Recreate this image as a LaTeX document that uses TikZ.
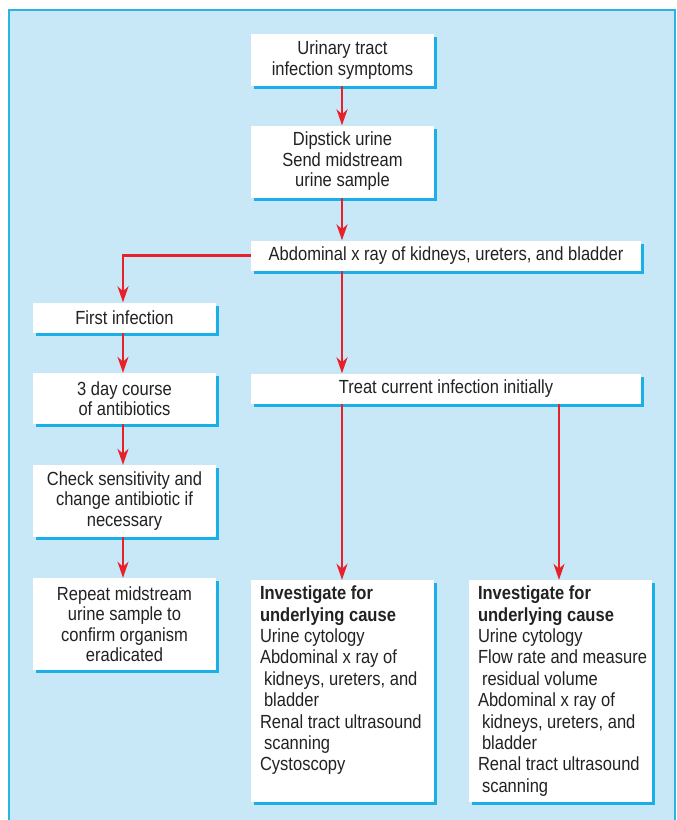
\documentclass[tikz,border=0pt]{standalone}
\usepackage{fontspec}
\setmainfont[FakeStretch=0.87]{Liberation Sans}
\usetikzlibrary{arrows.meta,shadows}
\definecolor{bgblue}{HTML}{C8E8F8}
\definecolor{frameblue}{HTML}{2AB4E6}
\definecolor{shadowblue}{HTML}{1AAFE6}
\definecolor{arrowred}{HTML}{E8202A}
\definecolor{txt}{HTML}{222222}
\tikzset{
  box/.style={draw=none, fill=white, inner sep=0pt, text=txt, align=center,
    font=\fontsize{19}{20.5}\selectfont,
    drop shadow={shadow xshift=3pt, shadow yshift=-3pt, fill=shadowblue, opacity=1}},
  boxtext/.style={inner sep=0pt, text=txt, align=left, anchor=north west,
    font=\fontsize{19}{21.4}\selectfont},
  flow/.style={draw=arrowred, line width=2.3pt, -{Stealth[length=16pt,width=11pt,inset=5pt]}}
}
\begin{document}
\begin{tikzpicture}[x=1pt,y=-1pt]
\useasboundingbox (0,0) rectangle (677,820);
\begin{scope}
\clip (0,0) rectangle (677,820);
\fill[bgblue] (8.5,9.5) rectangle (674.5,840);
\draw[frameblue, line width=2pt] (8.5,840) -- (8.5,9.5) -- (674.5,9.5) -- (674.5,840);
\end{scope}

\coordinate (leftx) at (123,0);
\coordinate (midx) at (342,0);
\coordinate (rightx) at (559,0);

\node[box, minimum width=183pt, minimum height=52pt] (uti) at (342.5,60) {Urinary tract\\infection symptoms};
\node[box, minimum width=183pt, minimum height=72pt] (dip) at (342.5,161.5) {Dipstick urine\\Send midstream\\urine sample};
\node[box, minimum width=390pt, minimum height=30pt] (xray) at (446,255.5) {Abdominal x ray of kidneys, ureters, and bladder};
\node[box, minimum width=183pt, minimum height=30pt] (first) at (124.5,317.5) {First infection};
\node[box, minimum width=183pt, minimum height=51pt] (course) at (124.5,398.5) {3 day course\\of antibiotics};
\node[box, minimum width=390pt, minimum height=30pt] (treat) at (446,388.5) {Treat current infection initially};
\node[box, minimum width=183pt, minimum height=72pt] (check) at (124.5,501) {Check sensitivity and\\change antibiotic if\\necessary};
\node[box, minimum width=183pt, minimum height=92pt] (repeat) at (124.5,624) {Repeat midstream\\urine sample to\\confirm organism\\eradicated};
\node[box, minimum width=183pt, minimum height=222pt] (invL) at (342.5,691) {};
\node[box, minimum width=183pt, minimum height=222pt] (invR) at (560.5,691) {};

\node[boxtext] (invLtext) at ([xshift=9pt,yshift=-6pt]invL.north west)
  {\textbf{Investigate for}\\\textbf{underlying cause}\\Urine cytology\\Abdominal x ray of\\\hspace*{4pt}kidneys, ureters, and\\\hspace*{4pt}bladder\\Renal tract ultrasound\\\hspace*{4pt}scanning\\Cystoscopy};
\node[boxtext] (invRtext) at ([xshift=9pt,yshift=-6pt]invR.north west)
  {\textbf{Investigate for}\\\textbf{underlying cause}\\Urine cytology\\Flow rate and measure\\\hspace*{4pt}residual volume\\Abdominal x ray of\\\hspace*{4pt}kidneys, ureters, and\\\hspace*{4pt}bladder\\Renal tract ultrasound\\\hspace*{4pt}scanning};

\draw[flow] (uti.south -| midx) -- (dip.north -| midx);
\draw[flow] (dip.south -| midx) -- (xray.north -| midx);
\draw[flow] (xray.west) -- (xray.west -| leftx) -- (first.north -| leftx);
\draw[flow] (first.south -| leftx) -- (course.north -| leftx);
\draw[flow] (course.south -| leftx) -- (check.north -| leftx);
\draw[flow] (check.south -| leftx) -- (repeat.north -| leftx);
\draw[flow] (xray.south -| midx) -- (treat.north -| midx);
\draw[flow] (treat.south -| midx) -- (invL.north -| midx);
\draw[flow] (treat.south -| rightx) -- (invR.north -| rightx);
\end{tikzpicture}
\end{document}
